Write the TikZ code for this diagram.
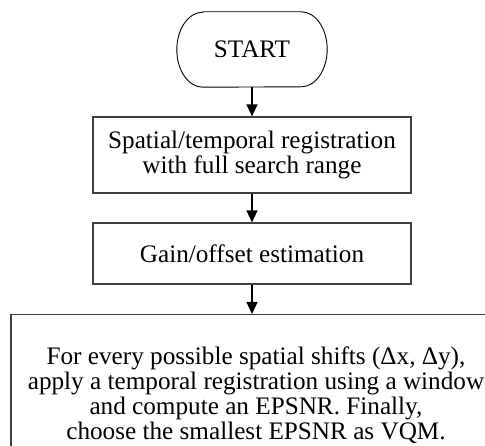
\documentclass[tikz,border=0pt]{standalone}
\usepackage{fontspec}
\setmainfont{Liberation Serif}
\usetikzlibrary{arrows.meta}

\begin{document}
\begin{tikzpicture}[x=1pt,y=1pt,
  every node/.style={font=\fontsize{25.2}{25}\selectfont, text=black, inner sep=0pt},
  procbox/.style={draw=black!75, line width=1.2pt, align=center},
  terminal/.style={draw=black, line width=0.9pt},
  flow/.style={line width=1.4pt, -{Triangle[length=12pt,width=11pt]}}]

  % page frame (pixel grid, y downwards as negative values)
  \clip (0,0) rectangle (485,-446);

  % terminal with elliptical ends
  \node[minimum width=150pt, minimum height=75pt] (start) at (252,-49.5) {START};
  \draw[terminal] ([xshift=26pt]start.north west) -- ([xshift=-26pt]start.north east)
    arc[start angle=90, end angle=-90, x radius=26pt, y radius=37.5pt]
    -- ([xshift=26pt]start.south west)
    arc[start angle=270, end angle=90, x radius=26pt, y radius=37.5pt] -- cycle;

  % process steps
  \node[procbox, minimum width=318pt, minimum height=76pt] (reg) at (252,-155)
    {Spatial/temporal registration\\with full search range};
  \node[procbox, minimum width=318pt, minimum height=61pt] (gain) at (252,-253.5)
    {Gain/offset estimation};
  \node[procbox, anchor=north, minimum width=490pt, minimum height=162pt] (eps) at (256,-314)
    {For every possible spatial shifts (Δx, Δy),\\
     apply a temporal registration using a window\\
     and compute an EPSNR. Finally,\\
     choose the smallest EPSNR as VQM.};

  % connectors
  \draw[flow] (start.south) -- (reg.north);
  \draw[flow] (reg.south) -- (gain.north);
  \draw[flow] (gain.south) -- (eps.north -| gain.south);
\end{tikzpicture}
\end{document}
